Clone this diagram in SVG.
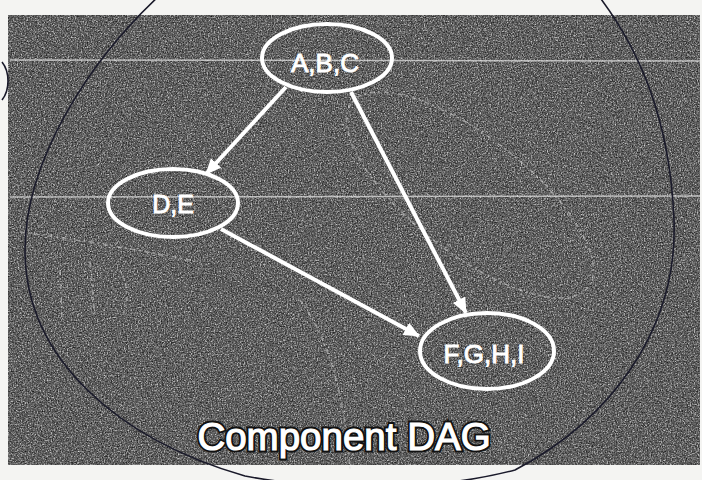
<svg xmlns="http://www.w3.org/2000/svg" width="702" height="480" viewBox="0 0 702 480">
  <defs>
    <style>
      .node-ring { fill: none; stroke: #ffffff; stroke-width: 4; }
      .node-label { fill: #ffffff; stroke: #ffffff; stroke-width: 0.9; font-family: "Liberation Sans", Arial, sans-serif; text-anchor: middle; }
      .edge { stroke: #ffffff; stroke-width: 4; fill: none; marker-end: url(#head); }
      .scan { stroke: #e8e8e8; stroke-width: 1.5; opacity: 0.7; }
      .chalk { fill: none; stroke: #d8d8d8; stroke-width: 1.6; stroke-dasharray: 5 3 2 4; opacity: 0.5; }
      .pen { fill: none; stroke: #1a1a2a; stroke-width: 1.6; }
      .title { font-family: "Liberation Sans", Arial, sans-serif; font-size: 38.5px; text-anchor: middle; }
      .title-back { fill: #111111; stroke: #111111; stroke-width: 5; }
      .title-front { fill: #ffffff; stroke: #ffffff; stroke-width: 1.2; }
    </style>
    <marker id="head" viewBox="0 0 16 14" refX="15" refY="7" markerWidth="16" markerHeight="14" markerUnits="userSpaceOnUse" orient="auto">
      <path d="M0,0 L16,7 L0,14 Z" fill="#ffffff"/>
    </marker>
    <!-- photocopy grain: light and dark speckles over the slide -->
    <filter id="grainLight" x="0" y="0" width="100%" height="100%">
      <feTurbulence type="fractalNoise" baseFrequency="0.7" numOctaves="2" seed="4"/>
      <feColorMatrix type="matrix" values="0 0 0 0 1  0 0 0 0 1  0 0 0 0 1  1.8 0 0 0 -0.8"/>
    </filter>
    <filter id="grainDark" x="0" y="0" width="100%" height="100%">
      <feTurbulence type="fractalNoise" baseFrequency="0.8" numOctaves="2" seed="9"/>
      <feColorMatrix type="matrix" values="0 0 0 0 0  0 0 0 0 0  0 0 0 0 0  0 1.8 0 0 -0.8"/>
    </filter>
  </defs>

  <!-- paper -->
  <rect x="0" y="0" width="702" height="480" fill="#f4f4f2"/>

  <!-- slide background -->
  <g id="slide">
    <rect x="8" y="15" width="692" height="450" fill="#5c5c5c"/>
    <rect x="8" y="15" width="692" height="450" fill="#ffffff" filter="url(#grainLight)"/>
    <rect x="8" y="15" width="692" height="450" fill="#000000" filter="url(#grainDark)"/>
    <line class="scan" x1="10" y1="60" x2="700" y2="61"/>
    <line class="scan" x1="10" y1="197" x2="700" y2="196"/>
    <!-- faint chalk loop behind the graph -->
    <ellipse class="chalk" cx="470" cy="195" rx="150" ry="58" transform="rotate(38 470 195)"/>
    <path class="chalk" d="M20,232 C80,240 140,250 200,262 M60,270 L62,320 M90,262 L95,318 M120,270 C130,290 128,300 122,318 M300,300 C330,340 345,400 350,470"/>
  </g>

  <!-- hand-drawn pen loop around the slide -->
  <path class="pen" d="M160,-5 C90,60 25,160 25,250 C25,360 120,440 245,476 C330,492 440,490 515,470 C610,420 678,330 674,220 C670,120 640,50 598,-5"/>
  <path class="pen" d="M2,62 C10,72 10,90 2,100"/>

  <!-- connectors -->
  <g id="edges">
    <line class="edge" x1="286" y1="87" x2="206" y2="174"/>
    <line class="edge" x1="351" y1="92" x2="466" y2="313"/>
    <line class="edge" x1="221" y1="229" x2="419" y2="336"/>
  </g>

  <!-- strongly connected components -->
  <g id="node-abc">
    <ellipse class="node-ring" cx="327" cy="58" rx="65" ry="34"/>
    <text class="node-label" x="325" y="72" font-size="26">A,B,C</text>
  </g>
  <g id="node-de">
    <ellipse class="node-ring" cx="173" cy="203" rx="65" ry="34"/>
    <text class="node-label" x="173" y="213" font-size="25">D,E</text>
  </g>
  <g id="node-fghi">
    <ellipse class="node-ring" cx="487" cy="351" rx="67" ry="38"/>
    <text class="node-label" x="484" y="363" font-size="26">F,G,H,I</text>
  </g>

  <!-- caption -->
  <g id="caption">
    <text class="title title-back" x="344" y="450">Component DAG</text>
    <text class="title title-front" x="344" y="450">Component DAG</text>
  </g>
</svg>
